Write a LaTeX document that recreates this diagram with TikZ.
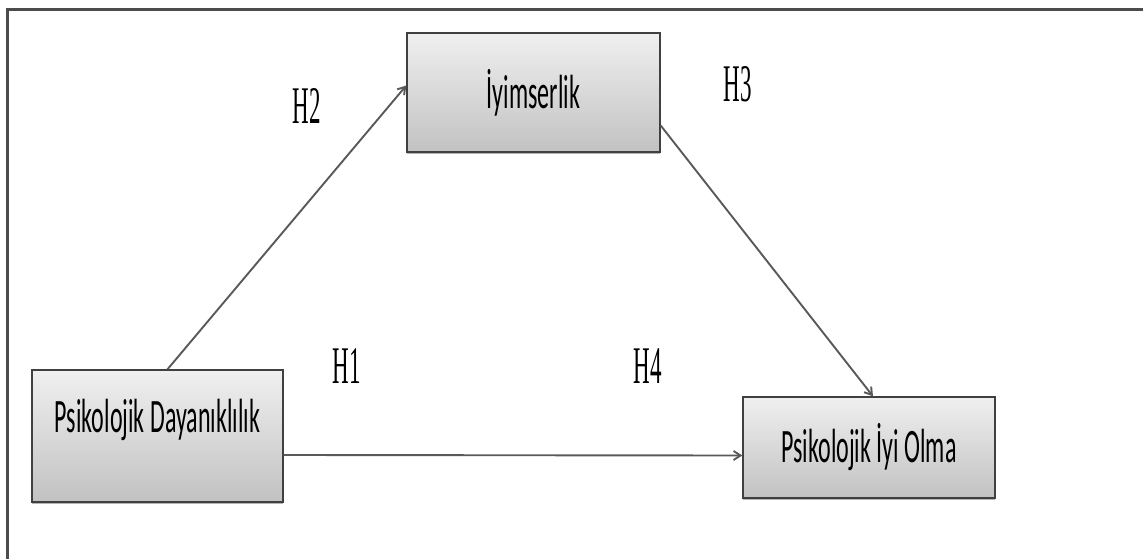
\documentclass[tikz,border=0pt]{standalone}
\usepackage{fontspec}
\usepackage{graphicx}
\newfontfamily\boxfont{Carlito}
\newfontfamily\hfont{Liberation Serif}
\usetikzlibrary{shadows,arrows.meta}
\newcommand{\tallbox}[1]{\scalebox{1}[2]{#1}}
\newcommand{\talllab}[1]{\scalebox{1}[2.3]{#1}}
\begin{document}
\begin{tikzpicture}[x=1pt,y=-1pt,
    varbox/.style={draw=black!75, line width=1.4pt, top color=gray!12, bottom color=gray!48,
        minimum width=252pt, inner sep=0pt, font=\boxfont\fontsize{24}{28}\selectfont,
        drop shadow={shadow xshift=0pt, shadow yshift=-2pt, opacity=.6}},
    hyp/.style={font=\hfont\fontsize{23}{26}\selectfont, inner sep=0pt},
    arr/.style={draw=black!65, line width=1.9pt, -{Straight Barb[length=7pt,width=9pt]}}]
    \useasboundingbox (0,0) rectangle (1143,559);
    \draw[line width=3pt, black!70] (1143,10) -- (7,10) -- (7,559);

    \node[varbox, minimum width=253pt, minimum height=119pt] (iy) at (533.5,92.5) {\tallbox{İyimserlik}};
    \node[varbox, minimum width=251pt, minimum height=132pt] (pd) at (157.5,436) {\raisebox{40pt}{\tallbox{Psikolojik Dayanıklılık}}};
    \node[varbox, minimum width=252pt, minimum height=101pt] (pio) at (869,447.5) {\tallbox{Psikolojik İyi Olma}};

    \draw[arr] ([xshift=10pt]pd.north) -- ([yshift=7pt]iy.west);
    \draw[arr] ([yshift=-33pt]iy.east) -- ([xshift=4pt]pio.north);
    \draw[arr] ([yshift=-19pt]pd.east) -- ([yshift=-8pt]pio.west);

    \node[hyp] (h2) at (307,106) {\talllab{H2}};
    \node[hyp] (h3) at (738,84) {\talllab{H3}};
    \node[hyp] (h1) at (347,366) {\talllab{H1}};
    \node[hyp] (h4) at (648,366) {\talllab{H4}};
\end{tikzpicture}
\end{document}
